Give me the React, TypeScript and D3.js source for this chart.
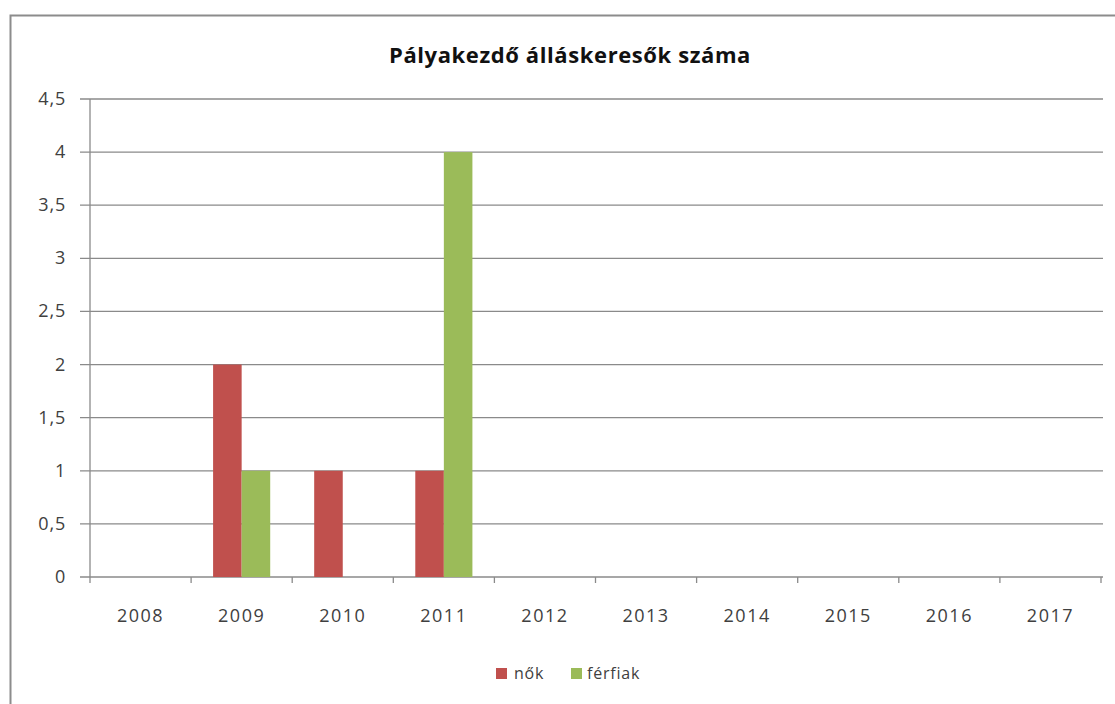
import React from "react";
import * as d3 from "d3";

const years = ["2008", "2009", "2010", "2011", "2012", "2013", "2014", "2015", "2016", "2017"];
const nok = [0, 2, 1, 1, 0, 0, 0, 0, 0, 0];
const ferfiak = [0, 1, 0, 4, 0, 0, 0, 0, 0, 0];
const yTicks = [0, 0.5, 1, 1.5, 2, 2.5, 3, 3.5, 4, 4.5];
const seriesNames = ["nők", "férfiak"];
const colors = ["#C0504D", "#9BBB59"];
const title = "Pályakezdő álláskeresők száma";

const W = 1115, H = 704;
const left = 90, right = 1101, top = 99, bottom = 577;
const font = "'Open Sans', sans-serif";

export default function App() {
  const x = d3.scaleBand().domain(years).range([left, right]).paddingInner(0).paddingOuter(0);
  const y = d3.scaleLinear().domain([0, 4.5]).range([bottom, top]);
  const groupW = x.bandwidth() * 0.565;
  const inner = d3.scaleBand().domain(seriesNames).range([0, groupW]);
  const fmt = (v: number) => String(v).replace(".", ",");
  const series = [nok, ferfiak];

  return (
    <svg width={W} height={H} style={{ position: "absolute", left: 0, top: 0, background: "#fff" }}>
      <rect x={10.5} y={15.5} width={1120} height={720} fill="#fff" stroke="#8c8c8c" strokeWidth={2} />
      <text x={570} y={63} textAnchor="middle" fontFamily={font} fontWeight="bold" fontSize={22} letterSpacing={0.6} fill="#111">{title}</text>
      {yTicks.map((t) => (
        <g key={t}>
          <line x1={left - 10} x2={right + 2} y1={y(t)} y2={y(t)} stroke="#8a8a8a" strokeWidth={1.3} />
          <text x={66} y={y(t) + 6} textAnchor="end" fontFamily={font} fontSize={18} letterSpacing={0.8} fill="#404040">{fmt(t)}</text>
        </g>
      ))}
      <line x1={left} x2={left} y1={top} y2={bottom} stroke="#8a8a8a" strokeWidth={1.3} />
      {years.map((yr, i) => (
        <g key={yr}>
          <line x1={x(yr)! + x.bandwidth()} x2={x(yr)! + x.bandwidth()} y1={bottom} y2={bottom + 6} stroke="#8a8a8a" strokeWidth={1.3} />
          {i === 0 && <line x1={left} x2={left} y1={bottom} y2={bottom + 6} stroke="#8a8a8a" strokeWidth={1.3} />}
          <text x={x(yr)! + x.bandwidth() / 2} y={622} textAnchor="middle" fontFamily={font} fontSize={18} letterSpacing={1.5} fill="#404040">{yr}</text>
        </g>
      ))}
      {series.map((vals, si) =>
        vals.map((v, i) => {
          if (v === 0) return null;
          const gx = x(years[i])! + (x.bandwidth() - groupW) / 2 + inner(seriesNames[si])!;
          return <rect key={`${si}-${i}`} x={gx} y={y(v)} width={inner.bandwidth()} height={bottom - y(v)} fill={colors[si]} />;
        })
      )}
      <g>
        <rect x={496} y={668} width={11} height={11} fill={colors[0]} />
        <text x={514} y={679} fontFamily={font} fontSize={16} letterSpacing={0.8} fill="#404040">{seriesNames[0]}</text>
        <rect x={571} y={668} width={11} height={11} fill={colors[1]} />
        <text x={587} y={679} fontFamily={font} fontSize={16} letterSpacing={0.8} fill="#404040">{seriesNames[1]}</text>
      </g>
    </svg>
  );
}
